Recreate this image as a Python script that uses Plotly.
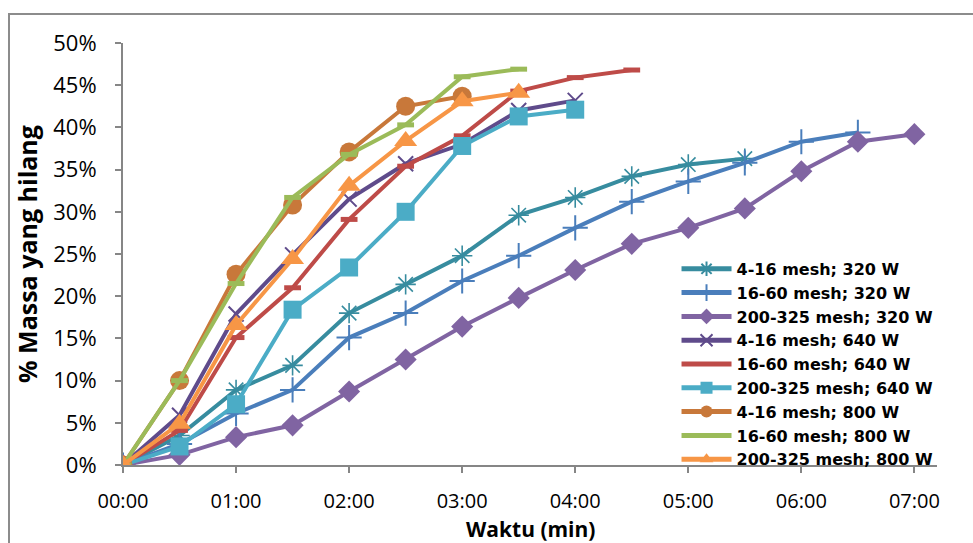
import plotly.graph_objects as go

# Elapsed time (minutes) at each 30 s reading
step = 0.5

# Mass loss (%) per sample
loss_4_16_320 = [0, 3.5, 8.9, 11.8, 18.0, 21.4, 24.8, 29.6, 31.7, 34.2, 35.6, 36.3]
loss_16_60_320 = [0, 2.5, 6.1, 8.9, 15.1, 18.0, 21.8, 24.8, 28.1, 31.2, 33.6, 35.8, 38.3, 39.4]
loss_200_325_320 = [0, 1.2, 3.3, 4.7, 8.7, 12.5, 16.4, 19.8, 23.1, 26.2, 28.1, 30.4, 34.8, 38.3, 39.2]
loss_4_16_640 = [0, 5.9, 17.9, 24.9, 31.5, 35.7, 38.0, 42.0, 43.2]
loss_16_60_640 = [0, 4.1, 15.1, 21.0, 29.1, 35.4, 39.0, 44.3, 45.9, 46.8]
loss_200_325_640 = [0, 2.2, 7.2, 18.4, 23.4, 30.0, 37.8, 41.3, 42.1]
loss_4_16_800 = [0, 10.0, 22.6, 30.8, 37.1, 42.5, 43.7]
loss_16_60_800 = [0, 10.0, 21.5, 31.7, 36.8, 40.3, 46.0, 46.9]
loss_200_325_800 = [0, 4.9, 16.6, 24.4, 33.1, 38.4, 43.1, 44.1]

series_names = [
    "4-16 mesh; 320 W", "16-60 mesh; 320 W", "200-325 mesh; 320 W",
    "4-16 mesh; 640 W", "16-60 mesh; 640 W", "200-325 mesh; 640 W",
    "4-16 mesh; 800 W", "16-60 mesh; 800 W", "200-325 mesh; 800 W",
]
series_values = [
    loss_4_16_320, loss_16_60_320, loss_200_325_320,
    loss_4_16_640, loss_16_60_640, loss_200_325_640,
    loss_4_16_800, loss_16_60_800, loss_200_325_800,
]

x_tick_vals = [0, 1, 2, 3, 4, 5, 6, 7]
x_tick_text = ["00:00", "01:00", "02:00", "03:00", "04:00", "05:00", "06:00", "07:00"]
x_title = "Waktu (min)"
y_title = "% Massa yang hilang"

colors = ["#378C9F", "#4A7EBB", "#8064A2", "#5F4B8B", "#BE4B48",
          "#4BACC6", "#C8783A", "#9BBB59", "#F79646"]
markers = [
    dict(symbol="asterisk-open", size=17, line=dict(width=1.6)),
    dict(symbol="cross-thin-open", size=18, line=dict(width=2)),
    dict(symbol="diamond", size=17),
    dict(symbol="x-thin-open", size=15, line=dict(width=2)),
    dict(symbol="line-ew-open", size=12, line=dict(width=5)),
    dict(symbol="square", size=18),
    dict(symbol="circle", size=19),
    dict(symbol="line-ew-open", size=12, line=dict(width=5)),
    dict(symbol="triangle-up", size=20),
]

fig = go.Figure()
for name, vals, col, mk in zip(series_names, series_values, colors, markers):
    xs = [i * step for i in range(len(vals))]
    mk = dict(mk, color=col)
    if "line" in mk:
        mk["line"] = dict(mk["line"], color=col)
    fig.add_trace(go.Scatter(
        x=xs, y=vals, name=name, mode="lines+markers",
        line=dict(color=col, width=4),
        marker=mk,
    ))

axis_col = "#868686"
font_family = "Open Sans, sans-serif"

fig.update_layout(
    width=973, height=543,
    margin=dict(l=123, r=36, t=43, b=78),
    paper_bgcolor="white", plot_bgcolor="white",
    font=dict(family=font_family, color="#000000"),
    showlegend=True,
    legend=dict(
        x=0.68, y=0.505, xanchor="left", yanchor="top",
        bgcolor="rgba(0,0,0,0)", borderwidth=0,
        font=dict(family="DejaVu Sans, sans-serif", size=16, weight="bold", color="#000000"),
        itemwidth=50, itemsizing="constant",
        tracegroupgap=0,
    ),
    xaxis=dict(
        range=[0, 7.2], tickvals=x_tick_vals, ticktext=x_tick_text,
        showgrid=False, zeroline=False, automargin=False,
        showline=True, linecolor=axis_col, linewidth=2,
        ticks="outside", ticklen=6, tickwidth=2, tickcolor=axis_col,
        tickfont=dict(size=20), ticklabelstandoff=11,
    ),
    yaxis=dict(
        range=[0, 50], dtick=5, ticksuffix="%",
        showgrid=False, zeroline=False, automargin=False,
        showline=True, linecolor=axis_col, linewidth=2,
        ticks="outside", ticklen=6, tickwidth=2, tickcolor=axis_col,
        tickfont=dict(size=22), ticklabelstandoff=14,
        title=dict(text=y_title, font=dict(size=25, weight="bold"), standoff=8),
    ),
    annotations=[dict(
        text=x_title, xref="paper", yref="paper",
        x=(530 - 123) / 814, y=(465 - 529) / 422,
        xanchor="center", yanchor="middle", showarrow=False,
        font=dict(size=21, weight="bold", family=font_family),
    )],
    shapes=[dict(
        type="rect", xref="paper", yref="paper",
        x0=(9 - 123) / 814, x1=1.2, y0=-0.4, y1=(465 - 14) / 422,
        line=dict(color="#8C8C8C", width=2), fillcolor="rgba(0,0,0,0)",
        layer="below",
    )],
)

fig.write_html("out.html")
